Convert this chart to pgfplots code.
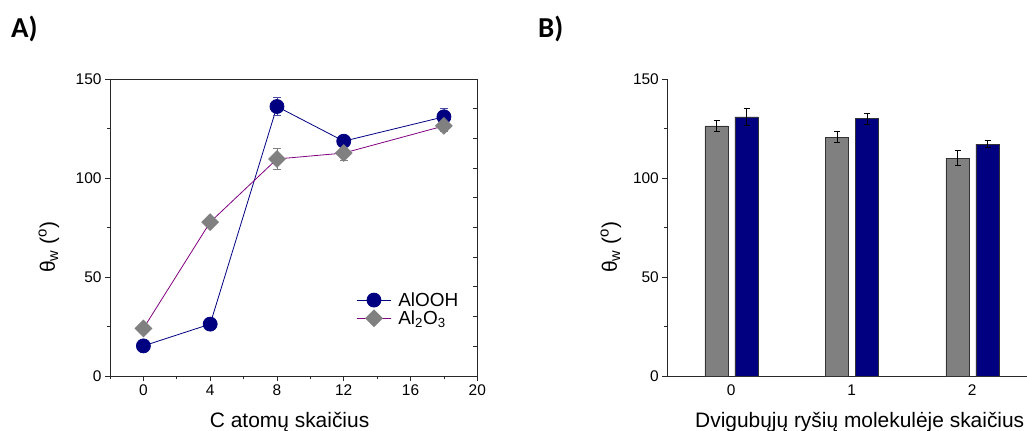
\documentclass[border=0pt]{standalone}
\usepackage{pgfplots}
\pgfplotsset{compat=1.18}
\usepackage{fontspec}
\setmainfont{Liberation Sans}
\newfontfamily\calibri{Carlito}
\definecolor{navyc}{RGB}{0,0,128}
\definecolor{greyc}{RGB}{128,128,128}
\definecolor{purpc}{RGB}{128,0,128}
\definecolor{axc}{RGB}{40,40,40}
\begin{document}
\begin{tikzpicture}
\path[use as bounding box] (0bp,0bp) rectangle (1027bp,431bp);
\node[anchor=base west, inner sep=0, font=\calibri\bfseries\fontsize{29}{30}\selectfont] at (11bp,393bp) {A)};
\node[anchor=base west, inner sep=0, font=\calibri\bfseries\fontsize{29}{30}\selectfont] at (538bp,393bp) {B)};
\pgfplotsset{
  common/.style={
    scale only axis, ymin=0, ymax=150,
    /pgf/number format/assume math mode=true,
    tick label style={font=\fontsize{15.5}{17}\selectfont, text=black},
    label style={font=\fontsize{21}{24}\selectfont},
    axis line style={axc, line width=0.8bp},
    tick style={axc, line width=0.8bp},
    major tick length=5bp, minor tick length=3bp,
    tick align=outside,
    ytick={0,50,100,150}, minor ytick={25,75,125},
  }
}
% Panel A
\begin{axis}[common,
  at={(110bp,55bp)}, anchor=south west, width=367.3bp, height=297bp,
  xmin=-2, xmax=20,
  xtick={0,4,8,12,16,20}, minor xtick={-2,2,6,10,14,18},
  xtick pos=bottom, ytick pos=left,
  xlabel={C atomų skaičius},
  ylabel={θ\textsubscript{w} (\raisebox{0.75ex}{\fontsize{15}{15}\selectfont o})},
  xlabel style={at={(axis description cs:0.489,-0.175)}, anchor=base},
  ylabel style={at={(axis description cs:-0.15,0.433)}, anchor=base},
  legend style={at={(axis description cs:0.668,0.292)}, anchor=north west,
    draw=none, fill=none, font=\fontsize{19}{21}\selectfont,
    row sep=-1bp, inner sep=1bp,
    /tikz/every odd column/.append style={column sep=5bp}},
  legend cell align=left,
  legend image code/.code={\draw[#1,mark repeat=2,mark phase=2] plot coordinates {(0bp,0bp) (17bp,0bp) (34bp,0bp)};},
]
\addplot[navyc, line width=0.8bp, mark=*, mark size=7bp,
  mark options={fill=navyc, draw=navyc},
  error bars/.cd, y dir=both, y explicit,
  error bar style={navyc!70, line width=0.8bp},
  error mark options={rotate=90, mark size=4bp, navyc!70, line width=0.8bp}]
  coordinates {
  (0,15.2) +- (0,0.8)
  (4,26.2) +- (0,1.0)
  (8,136.1) +- (0,4.4)
  (12,118.6) +- (0,2.5)
  (18,130.9) +- (0,4.2)
  };
\addlegendentry{AlOOH}
\addplot[purpc, line width=0.8bp, mark=square*, mark size=5.9bp,
  mark options={fill=greyc, draw=greyc, rotate=45},
  error bars/.cd, y dir=both, y explicit,
  error bar style={greyc, line width=0.8bp},
  error mark options={rotate=90, mark size=4bp, greyc, line width=0.8bp}]
  coordinates {
  (0,24.0) +- (0,1.0)
  (4,77.7) +- (0,1.0)
  (8,109.6) +- (0,5.2)
  (12,112.6) +- (0,3.8)
  (18,126.3) +- (0,2.8)
  };
\addlegendentry{Al\textsubscript{2}O\textsubscript{3}}
\end{axis}
% right-side inner ticks of panel A
\begin{axis}[
  at={(110bp,55bp)}, anchor=south west, scale only axis, width=367.3bp, height=297bp,
  xmin=-2, xmax=20, ymin=0, ymax=150,
  hide x axis, axis y line*=right,
  axis line style={axc, line width=0.8bp},
  tick style={axc, line width=0.8bp},
  ytick={15,30,...,135}, yticklabels={}, tick align=inside, major tick length=4bp,
]
\addplot[draw=none] coordinates {(0,0)};
\end{axis}
% Panel B
\begin{axis}[common,
  at={(667.3bp,55bp)}, anchor=south west, width=359.7bp, height=297bp,
  xmin=-0.529, xmax=2.456,
  axis x line*=bottom, axis y line*=left,
  axis line style={-},
  xtick={0,1,2}, x tick style={draw=none},
  xlabel={Dvigubųjų ryšių molekulėje skaičius},
  ylabel={θ\textsubscript{w} (\raisebox{0.75ex}{\fontsize{15}{15}\selectfont o})},
  xlabel style={at={(axis description cs:0.535,-0.175)}, anchor=base},
  ylabel style={at={(axis description cs:-0.14,0.433)}, anchor=base},
  ybar, bar width=23.3bp,
]
\addplot[fill=greyc, draw=black!80, line width=0.6bp, bar shift=-14.5bp,
  error bars/.cd, y dir=both, y explicit,
  error bar style={black, line width=0.7bp},
  error mark options={rotate=90, mark size=3bp, black, line width=0.7bp}]
  coordinates {
  (0,126.3) +- (0,2.8)
  (1,120.6) +- (0,2.8)
  (2,110.0) +- (0,3.8)
  };
\addplot[fill=navyc, draw=black!80, line width=0.6bp, bar shift=15.5bp,
  error bars/.cd, y dir=both, y explicit,
  error bar style={black, line width=0.7bp},
  error mark options={rotate=90, mark size=3bp, black, line width=0.7bp}]
  coordinates {
  (0,130.9) +- (0,4.4)
  (1,129.9) +- (0,2.6)
  (2,117.1) +- (0,1.8)
  };
\end{axis}
\end{tikzpicture}
\end{document}
